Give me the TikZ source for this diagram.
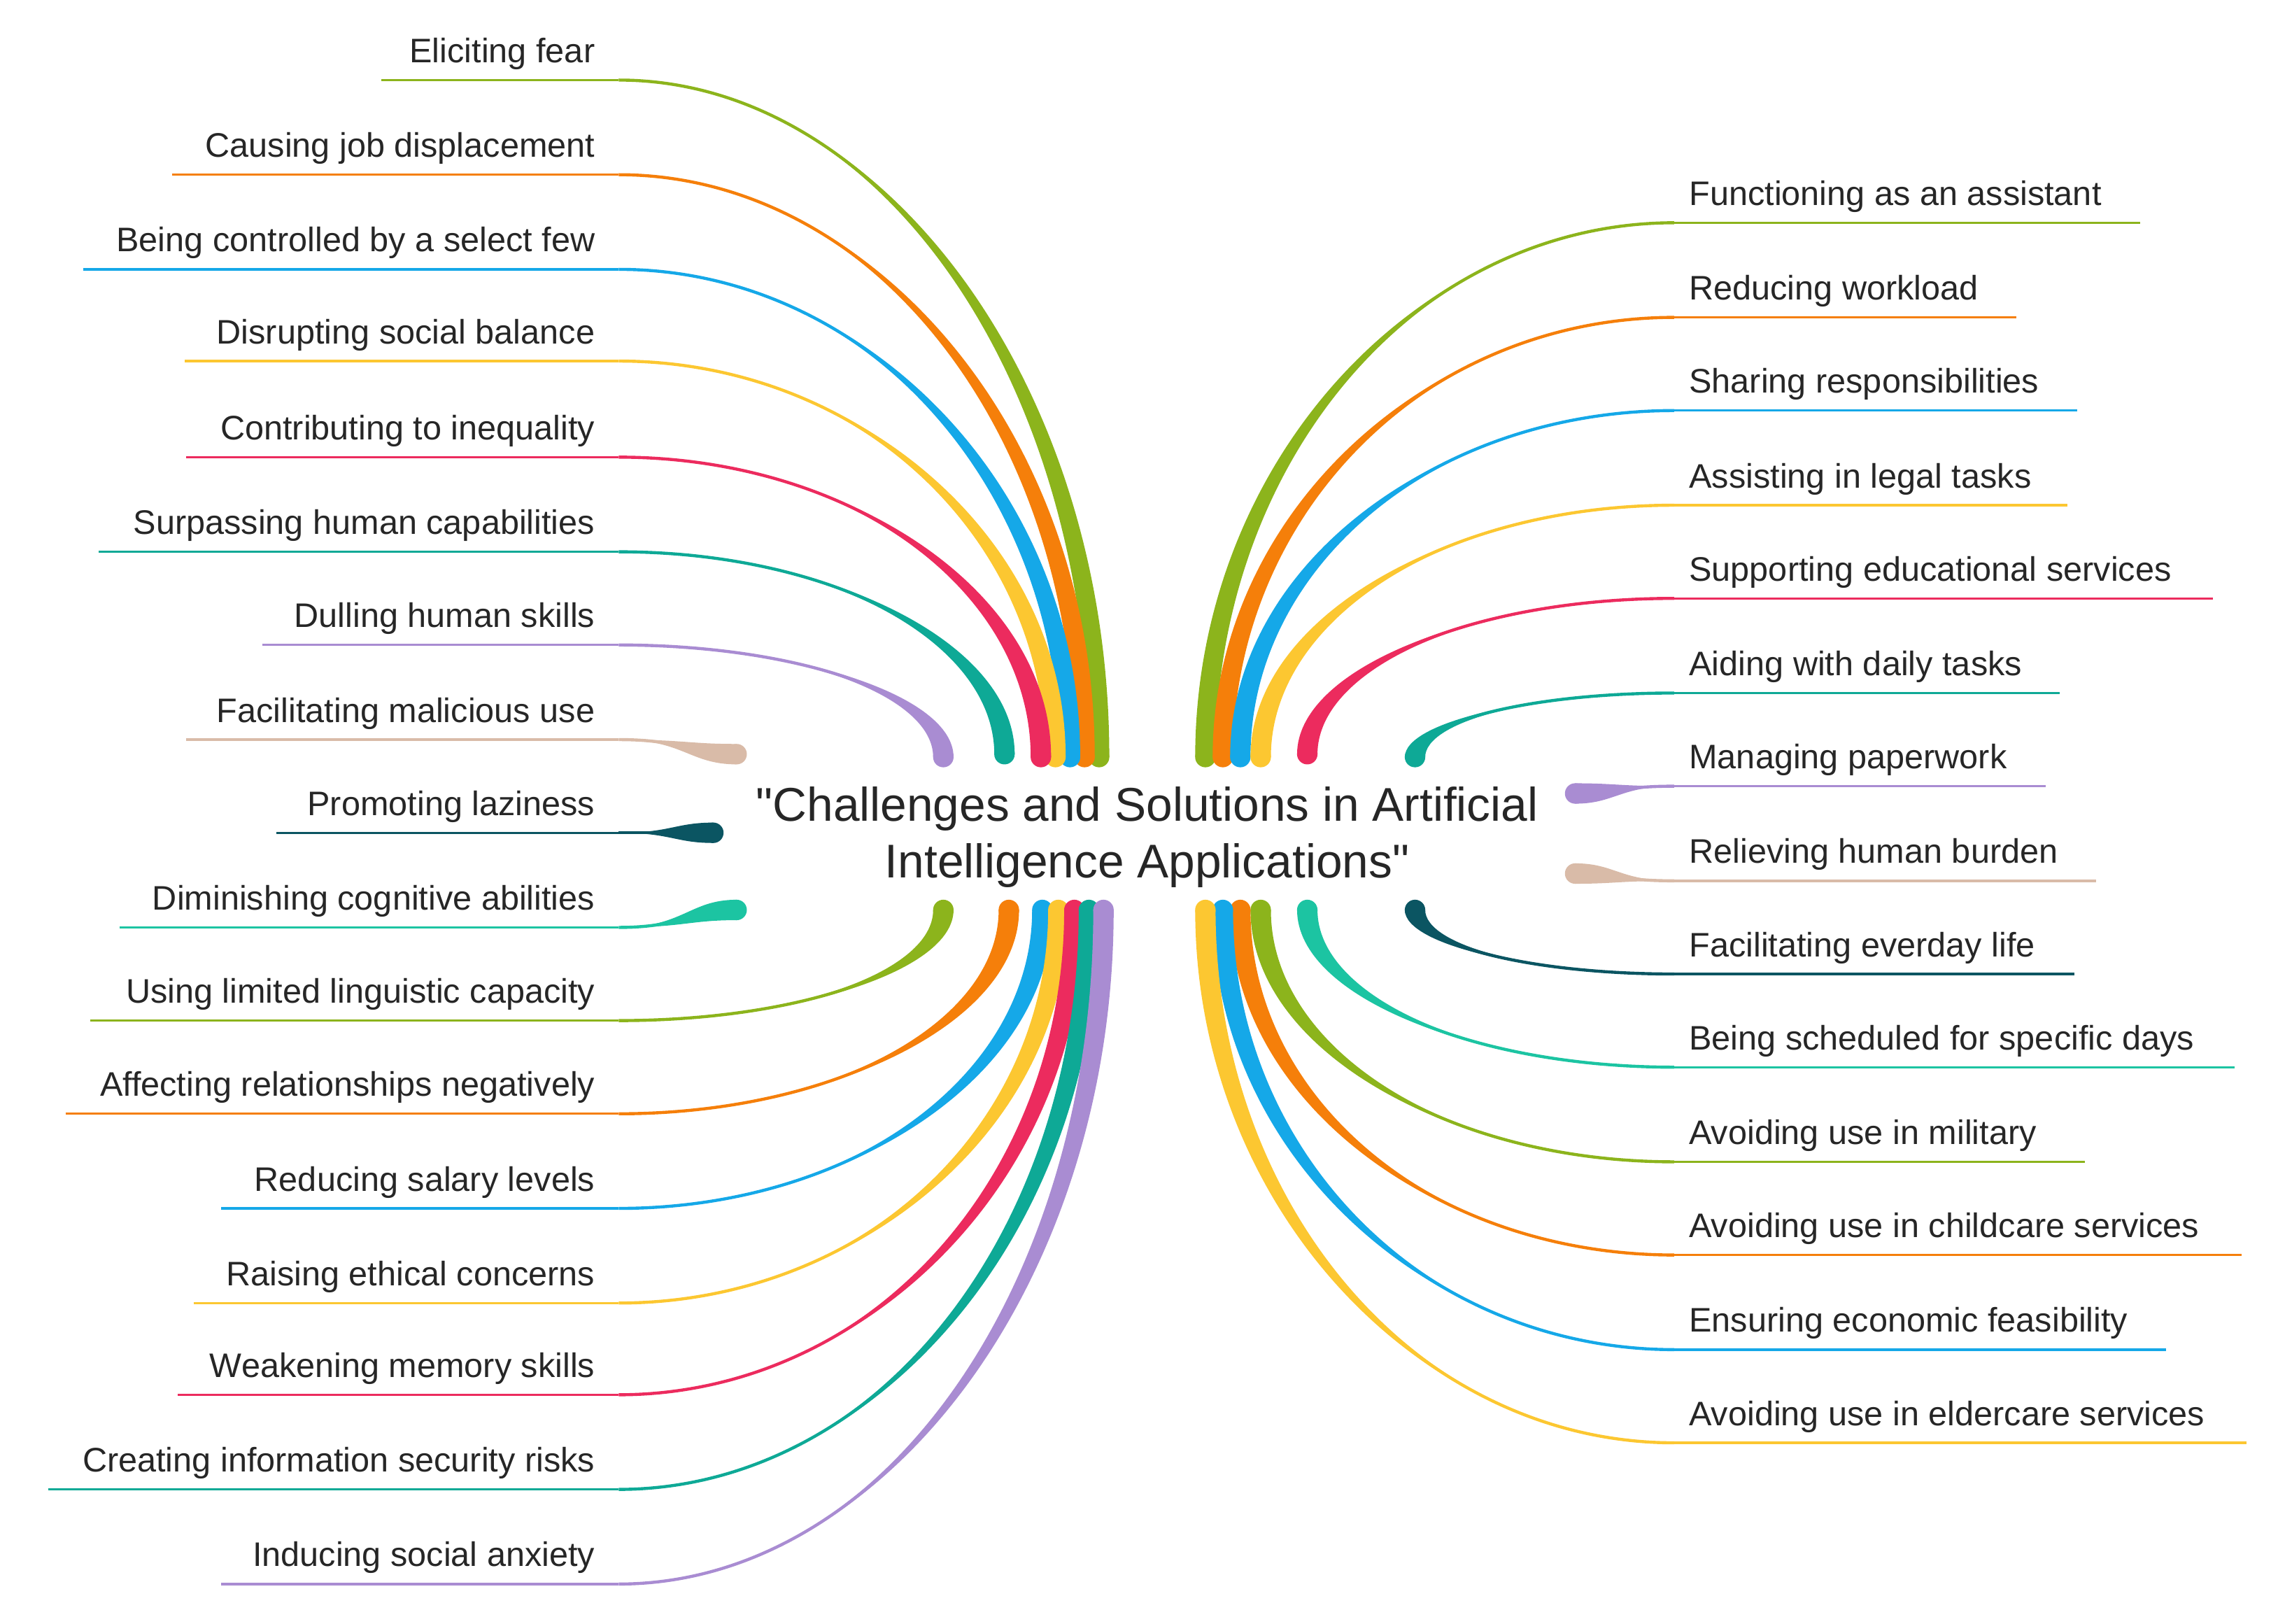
\documentclass[tikz,border=0pt]{standalone}
\usepackage{fontspec}
\setmainfont{Liberation Sans}[Ligatures=TeXOff]
\usetikzlibrary{calc}
\definecolor{cG}{HTML}{8CB41C}
\definecolor{cO}{HTML}{F57F0A}
\definecolor{cB}{HTML}{15A8E8}
\definecolor{cY}{HTML}{FCC731}
\definecolor{cR}{HTML}{EC2B5E}
\definecolor{cT}{HTML}{0EA996}
\definecolor{cL}{HTML}{A98CD2}
\definecolor{cN}{HTML}{D9BBA8}
\definecolor{cD}{HTML}{0B5562}
\definecolor{cM}{HTML}{1CC4A2}
\newcommand\mybr[4]{% color, start, end, mode v/h
  \coordinate (m1) at ($(#2)!0.55!(#3)$);
  \coordinate (c1) at (m1 |- #2);
  \if#4v
    \coordinate (m2) at ($(#2)!0.45!(#3)$);
    \coordinate (c2) at (#3 |- m2);
    \coordinate (o) at (7,0);
  \else
    \coordinate (m2) at ($(#2)!0.6!(#3)$);
    \coordinate (c2) at (m2 |- #3);
    \coordinate (o) at (0,7);
  \fi
  \fill[#1] (#2) .. controls (c1) and ($(c2)+(o)$) .. ($(#3)+(o)$) -- ($(#3)-(o)$) .. controls ($(c2)-(o)$) and (c1) .. (#2) -- cycle;
  \draw[#1, line width=1.2pt] (#2) .. controls (c1) and (c2) .. (#3);
  \fill[#1] (#3) circle (4pt);
}
\tikzset{lab/.style={font=\fontsize{13.3}{16}\selectfont, text=black!85, inner sep=0pt},
  uline/.style={line width=0.9pt}}
\begin{document}
\begin{tikzpicture}[x=0.02cm,y=-0.02cm]
\useasboundingbox (0,0) rectangle (1560,1115);
\node[font=\fontsize{18.5}{22}\selectfont, text=black!85, align=center] (title) at (788,575) {"Challenges and Solutions in Artificial\\Intelligence Applications"};
\foreach \i/\y/\xs/\ex/\ey/\c/\m/\t in {
 1/55/262/755/520/cG/v/Eliciting fear,
 2/120/118/745/520/cO/v/Causing job displacement,
 3/185/57/735/520/cB/v/Being controlled by a select few,
 4/248/127/725/520/cY/v/Disrupting social balance,
 5/314/128/715/520/cR/v/Contributing to inequality,
 6/379/68/690/518/cT/v/Surpassing human capabilities,
 7/443/180/648/520/cL/v/Dulling human skills,
 8/508/128/506/518/cN/h/Facilitating malicious use,
 9/572/190/490/572/cD/h/Promoting laziness,
 10/637/82/506/625/cM/h/Diminishing cognitive abilities,
 11/701/62/648/625/cG/v/Using limited linguistic capacity,
 12/765/45/693/625/cO/v/Affecting relationships negatively,
 13/830/152/716/625/cB/v/Reducing salary levels,
 14/895/133/727/625/cY/v/Raising ethical concerns,
 15/958/122/738/625/cR/v/Weakening memory skills,
 16/1023/33/748/625/cT/v/Creating information security risks,
 17/1088/152/758/625/cL/v/Inducing social anxiety}{
  \node[lab, anchor=base east] (L\i) at (409,\y-12) {\t};
  \coordinate (Ls\i) at (\xs,\y);
  \coordinate (Lj\i) at (425,\y);
  \coordinate (Le\i) at (\ex,\ey);
  \draw[\c, uline] (Ls\i) -- (Lj\i);
  \mybr{\c}{Lj\i}{Le\i}{\m}
}
\foreach \i/\y/\xs/\ex/\ey/\c/\m/\t in {
 1/153/1470/828/520/cG/v/Functioning as an assistant,
 2/218/1385/840/520/cO/v/Reducing workload,
 3/282/1427/852/520/cB/v/Sharing responsibilities,
 4/347/1420/866/520/cY/v/Assisting in legal tasks,
 5/411/1520/898/518/cR/v/Supporting educational services,
 6/476/1415/972/520/cT/v/Aiding with daily tasks,
 7/540/1405/1082/545/cL/h/Managing paperwork,
 8/605/1440/1082/600/cN/h/Relieving human burden,
 9/669/1425/972/625/cD/v/Facilitating everday life,
 10/733/1535/898/625/cM/v/Being scheduled for specific days,
 11/798/1432/866/625/cG/v/Avoiding use in military,
 12/862/1540/852/625/cO/v/Avoiding use in childcare services,
 13/927/1488/840/625/cB/v/Ensuring economic feasibility,
 14/991/1543/828/625/cY/v/Avoiding use in eldercare services}{
  \node[lab, anchor=base west] (R\i) at (1160,\y-12) {\t};
  \coordinate (Rs\i) at (\xs,\y);
  \coordinate (Rj\i) at (1150,\y);
  \coordinate (Re\i) at (\ex,\ey);
  \draw[\c, uline] (Rj\i) -- (Rs\i);
  \mybr{\c}{Rj\i}{Re\i}{\m}
}
\end{tikzpicture}
\end{document}
